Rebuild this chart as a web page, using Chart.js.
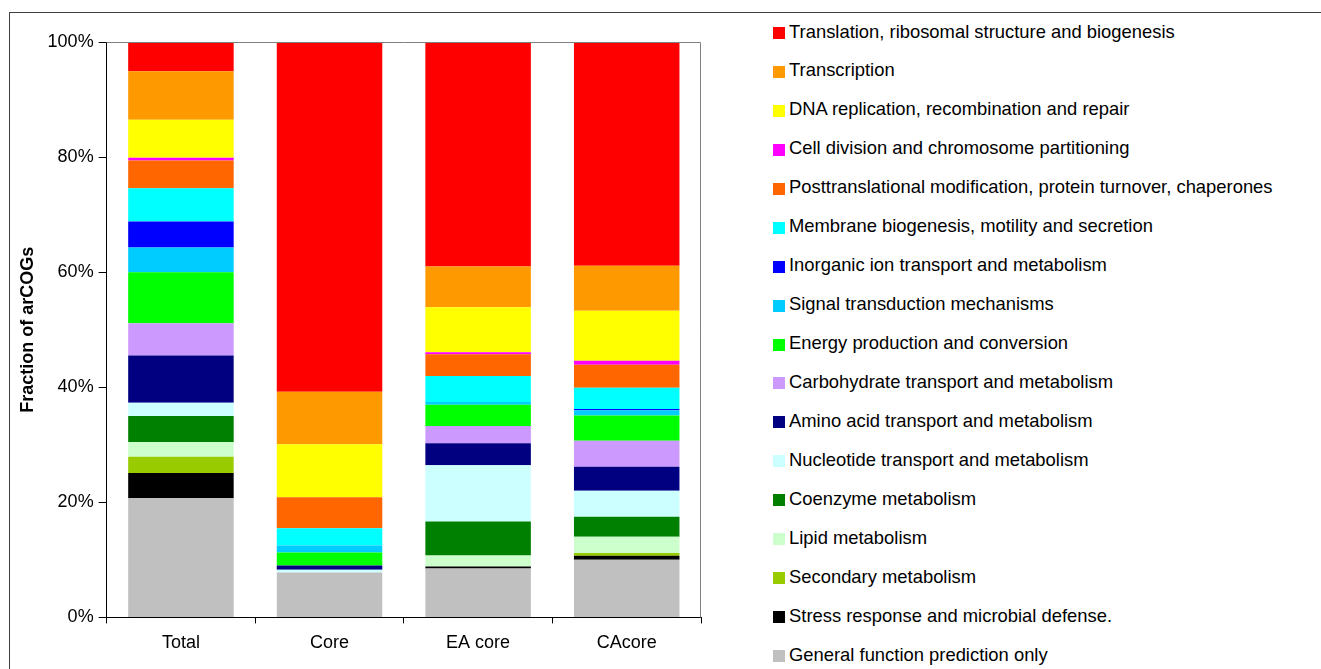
<!DOCTYPE html>
<html>
<head>
<meta charset="utf-8">
<title>arCOG functional categories</title>
<script src="https://cdn.jsdelivr.net/npm/chart.js@4.4.1/dist/chart.umd.min.js"></script>
<style>
  html, body { margin: 0; padding: 0; overflow: hidden; background: #fff; }
  body { font-family: "Liberation Sans", Arial, sans-serif; }
  #frame { position: absolute; left: 9px; top: 12px; width: 1400px; height: 700px; border: 1px solid #404040; }
  #wrap { position: absolute; left: 0; top: 0; width: 720px; height: 669px; }
  #legend { position: absolute; left: 773px; top: 27px; }
  .item { position: relative; height: 38.95px; }
  .item .box { position: absolute; left: 0; top: 0; width: 12px; height: 12px; }
  .item .txt { position: absolute; left: 16px; top: -1.5px; line-height: 12px; font-size: 18.4px; white-space: nowrap; color: #000; }
</style>
</head>
<body>
<div id="frame"></div>
<div id="wrap"><canvas id="chart" width="720" height="669"></canvas></div>
<div id="legend"></div>
<script>
// categories on the x axis
const groups = ['Total', 'Core', 'EA core', 'CAcore'];

// percent of arCOGs per functional class (Total, Core, EA core, CAcore)
const translation        = [5.1, 60.8, 39.0, 38.9];
const transcription      = [8.4, 9.1, 7.1, 7.8];
const dnaRepair          = [6.6, 9.2, 7.8, 8.7];
const cellDivision       = [0.5, 0, 0.35, 0.7];
const posttranslational  = [4.8, 5.4, 3.8, 4.0];
const membrane           = [5.8, 3.0, 4.5, 3.7];
const inorganicIon       = [4.5, 0, 0, 0.2];
const signalTransduction = [4.3, 1.2, 0.5, 0.9];
const energy             = [8.9, 2.3, 3.7, 4.4];
const carbohydrate       = [5.6, 0, 3.0, 4.5];
const aminoAcid          = [8.2, 0.7, 3.8, 4.2];
const nucleotide         = [2.3, 0.5, 9.8, 4.5];
const coenzyme           = [4.5, 0, 5.9, 3.5];
const lipid              = [2.6, 0, 1.9, 2.8];
const secondary          = [2.8, 0, 0, 0.5];
const stress             = [4.4, 0, 0.35, 0.7];
const general            = [20.7, 7.8, 8.5, 10.0];

const yTicks = [0, 20, 40, 60, 80, 100];

// bottom of the stack first
const series = [
  ['General function prediction only', general, '#C0C0C0'],
  ['Stress response and microbial defense.', stress, '#000000'],
  ['Secondary metabolism', secondary, '#99CC00'],
  ['Lipid metabolism', lipid, '#CCFFCC'],
  ['Coenzyme metabolism', coenzyme, '#008000'],
  ['Nucleotide transport and metabolism', nucleotide, '#CCFFFF'],
  ['Amino acid transport and metabolism', aminoAcid, '#000080'],
  ['Carbohydrate transport and metabolism', carbohydrate, '#CC99FF'],
  ['Energy production and conversion', energy, '#00FF00'],
  ['Signal transduction mechanisms', signalTransduction, '#00CCFF'],
  ['Inorganic ion transport and metabolism', inorganicIon, '#0000FF'],
  ['Membrane biogenesis, motility and secretion', membrane, '#00FFFF'],
  ['Posttranslational modification, protein turnover, chaperones', posttranslational, '#FF6600'],
  ['Cell division and chromosome partitioning', cellDivision, '#FF00FF'],
  ['DNA replication, recombination and repair', dnaRepair, '#FFFF00'],
  ['Transcription', transcription, '#FF9900'],
  ['Translation, ribosomal structure and biogenesis', translation, '#FF0000']
];

Chart.defaults.font.family = '"Liberation Sans", Arial, sans-serif';
Chart.defaults.font.size = 18;
Chart.defaults.color = '#000';

// grey top and right edges of the plot area
const plotFrame = {
  id: 'plotFrame',
  afterDatasetsDraw(chart) {
    const { ctx, chartArea: a } = chart;
    ctx.save();
    ctx.strokeStyle = '#808080';
    ctx.lineWidth = 1;
    ctx.beginPath();
    ctx.moveTo(a.left, a.top + 0.5);
    ctx.lineTo(a.right - 0.5, a.top + 0.5);
    ctx.lineTo(a.right - 0.5, a.bottom);
    ctx.stroke();
    ctx.restore();
  }
};

const chart = new Chart(document.getElementById('chart'), {
  type: 'bar',
  data: {
    labels: groups,
    datasets: series.map(([label, data, color]) => ({
      label: label,
      data: data,
      backgroundColor: color,
      borderWidth: 0,
      barPercentage: 0.71,
      categoryPercentage: 1.0
    }))
  },
  options: {
    responsive: false,
    animation: false,
    layout: { padding: { left: 13, top: 42, right: 19, bottom: 6 } },
    plugins: { legend: { display: false }, tooltip: { enabled: false } },
    scales: {
      x: {
        stacked: true,
        ticks: { color: '#000', padding: 9 },
        grid: { drawOnChartArea: false, tickLength: 6, tickColor: '#000', offset: true },
        border: { color: '#000', width: 1 }
      },
      y: {
        stacked: true,
        min: 0,
        max: 100,
        afterBuildTicks: scale => { scale.ticks = yTicks.map(v => ({ value: v })); },
        ticks: { color: '#000', padding: 5, callback: v => v + '%' },
        grid: { drawOnChartArea: false, tickLength: 8, tickColor: '#000' },
        border: { color: '#000', width: 1 },
        title: {
          display: true,
          text: 'Fraction of arCOGs',
          color: '#000',
          font: { size: 18, weight: 'bold' },
          padding: { top: 4, bottom: 4 }
        }
      }
    }
  },
  plugins: [plotFrame]
});

// legend on the right, top of the stack first
const legendEl = document.getElementById('legend');
chart.data.datasets.slice().reverse().forEach(ds => {
  const row = document.createElement('div');
  row.className = 'item';
  const box = document.createElement('span');
  box.className = 'box';
  box.style.background = ds.backgroundColor;
  const txt = document.createElement('span');
  txt.className = 'txt';
  txt.textContent = ds.label;
  row.appendChild(box);
  row.appendChild(txt);
  legendEl.appendChild(row);
});
</script>
</body>
</html>
